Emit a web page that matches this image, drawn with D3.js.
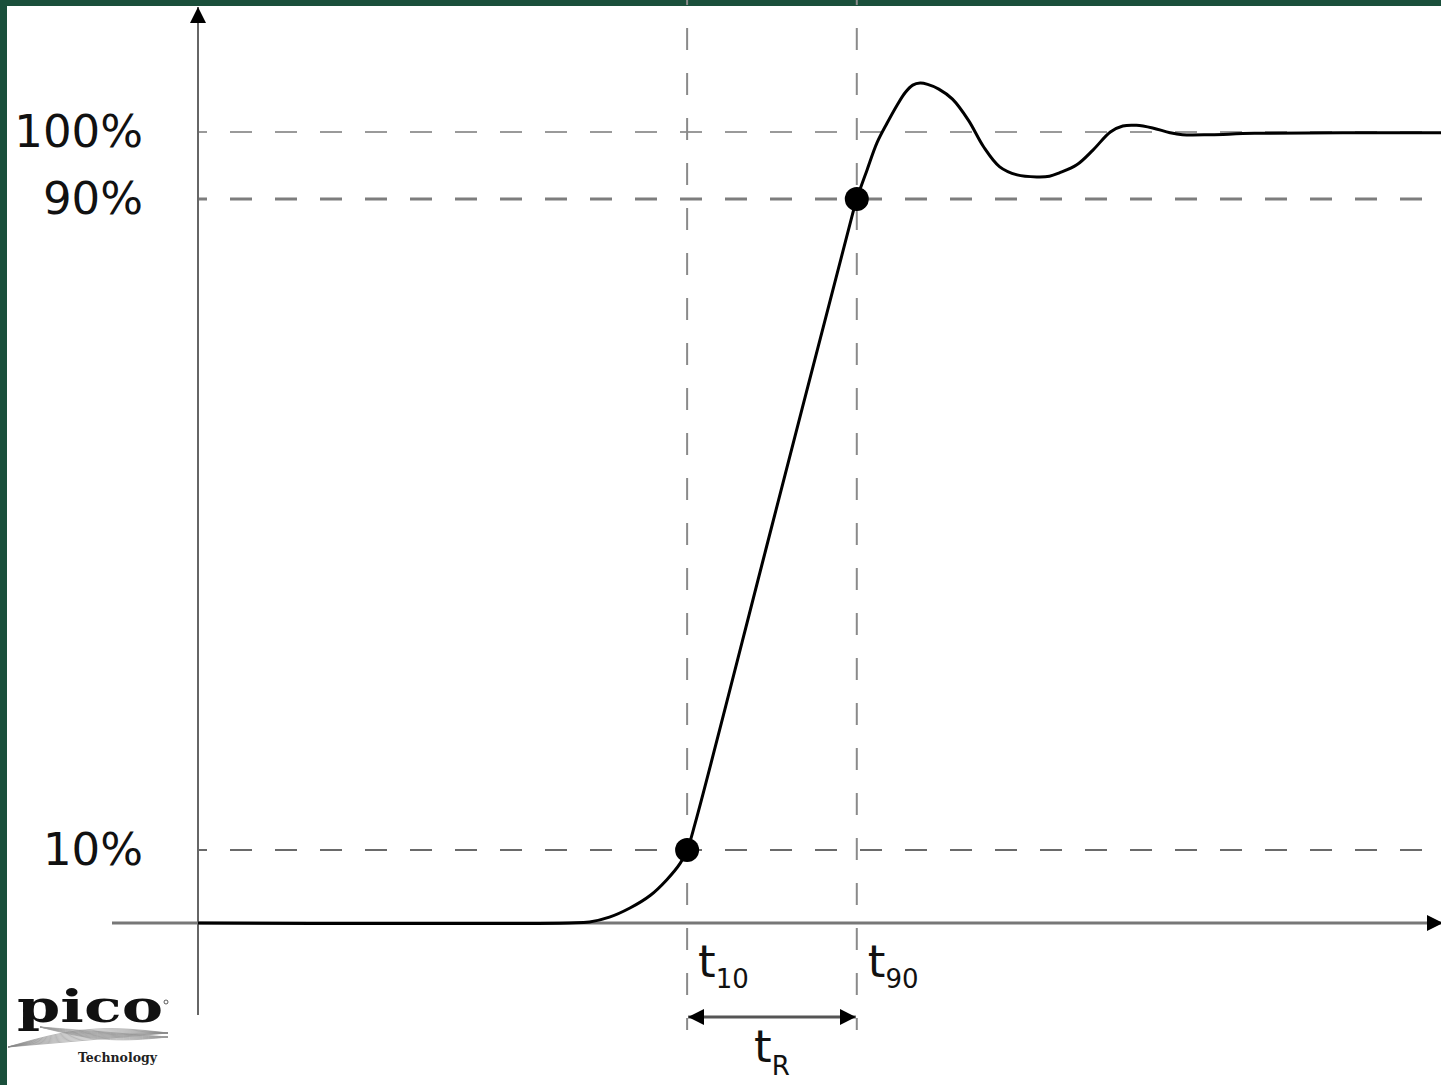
<!DOCTYPE html>
<html>
<head>
<meta charset="utf-8">
<script src="https://cdn.jsdelivr.net/npm/d3@7"></script>
<style>
  html, body { margin: 0; padding: 0; background: #1a4f3b; overflow: hidden; }
  svg { display: block; }
</style>
</head>
<body>
<div id="graph-container"></div>
<script>
const width = 1441;
const height = 1085;

// step response, time in arbitrary units, level in % of final value
const times = [0, 29.9, 31.5, 33.1, 34.75, 36.4, 37.7, 38.8, 39.35, 40.0, 46.2, 52.6, 53.0,
  53.82, 54.63, 55.43, 56.24, 56.9, 57.5, 58.1, 58.7, 59.6, 60.7, 62.0, 63.2, 64.5, 65.9,
  67.5, 68.5, 69.3, 70.7, 72.0, 73.4, 74.4, 75.5, 76.8, 78.2, 79.2, 81.5, 85.0, 100];
const values = [0, 0, 0.14, 0.8, 2.05, 3.8, 5.9, 8.2, 10, 13.3, 50, 87.8, 90,
  94.3, 98.4, 101.3, 104.0, 105.9, 107.0, 107.3, 107.1, 106.4, 104.9, 101.7, 97.8, 94.8, 93.6,
  93.3, 93.4, 93.9, 95.1, 97.3, 100.0, 100.9, 101.0, 100.6, 99.9, 99.6, 99.6, 99.8, 99.9];

// reference levels on the y axis
const levelTicks = [100, 90, 10];
const levelLabels = ["100%", "90%", "10%"];

// crossing points t10 / t90
const crossTimes = [39.35, 53.0];
const crossLevels = [10, 90];
const crossSubs = ["10", "90"];

const svg = d3.select("#graph-container")
  .append("svg")
  .attr("width", width)
  .attr("height", height);

// white page inside the green frame
svg.append("rect")
  .attr("x", 7).attr("y", 6)
  .attr("width", width - 7).attr("height", height - 6)
  .attr("fill", "#fff");

const x = d3.scaleLinear().domain([0, 100]).range([198, 1441]);
// the drawing is schematic: levels are not evenly spaced
const y = d3.scaleLinear().domain([0, 10, 90, 100]).range([923, 850, 199, 132]);

const defs = svg.append("defs");
defs.append("marker")
  .attr("id", "arrow")
  .attr("viewBox", "0 0 10 10")
  .attr("refX", 10).attr("refY", 5)
  .attr("markerWidth", 16).attr("markerHeight", 16)
  .attr("markerUnits", "userSpaceOnUse")
  .attr("orient", "auto-start-reverse")
  .append("path")
  .attr("d", "M0,0L10,5L0,10Z")
  .attr("fill", "#000");

// horizontal dashed reference lines
const levelStyle = { 100: ["#9a9a9a", 2], 90: ["#7d7d7d", 3], 10: ["#6a6a6a", 2.2] };
svg.append("g")
  .selectAll("line")
  .data(levelTicks)
  .join("line")
  .attr("x1", x(0))
  .attr("x2", x(100))
  .attr("y1", d => y(d))
  .attr("y2", d => y(d))
  .attr("stroke", d => levelStyle[d][0])
  .attr("stroke-width", d => levelStyle[d][1])
  .attr("stroke-dasharray", "22 23")
  .attr("stroke-dashoffset", 13);

// vertical dashed lines at t10 and t90
svg.append("g")
  .selectAll("line")
  .data(crossTimes)
  .join("line")
  .attr("x1", d => x(d))
  .attr("x2", d => x(d))
  .attr("y1", -17)
  .attr("y2", y(0) + 107)
  .attr("stroke", "#8a8a8a")
  .attr("stroke-width", 2)
  .attr("stroke-dasharray", "22 23");

// axes
svg.append("line")
  .attr("x1", x(0)).attr("x2", x(0))
  .attr("y1", y(0) + 92).attr("y2", 7)
  .attr("stroke", "#666")
  .attr("stroke-width", 2)
  .attr("marker-end", "url(#arrow)");

svg.append("line")
  .attr("x1", 112).attr("x2", x(100) + 2)
  .attr("y1", y(0)).attr("y2", y(0))
  .attr("stroke", "#777")
  .attr("stroke-width", 3)
  .attr("marker-end", "url(#arrow)");

// level labels
svg.append("g")
  .selectAll("text")
  .data(levelTicks)
  .join("text")
  .attr("x", 143)
  .attr("y", d => y(d))
  .attr("dy", "0.34em")
  .attr("text-anchor", "end")
  .attr("font-family", "DejaVu Sans, Verdana, sans-serif")
  .attr("font-size", 45)
  .attr("fill", "#111")
  .text((d, i) => levelLabels[i]);

// the response curve
const line = d3.line()
  .x((d, i) => x(times[i]))
  .y(d => y(d))
  .curve(d3.curveCatmullRom.alpha(0.5));

svg.append("path")
  .datum(values)
  .attr("d", line)
  .attr("fill", "none")
  .attr("stroke", "#000")
  .attr("stroke-width", 3)
  .attr("stroke-linejoin", "round");

// crossing dots
svg.append("g")
  .selectAll("circle")
  .data(crossTimes)
  .join("circle")
  .attr("cx", d => x(d))
  .attr("cy", (d, i) => y(crossLevels[i]))
  .attr("r", 12)
  .attr("fill", "#000");

// t10 / t90 labels
const tl = svg.append("g")
  .selectAll("text")
  .data(crossTimes)
  .join("text")
  .attr("x", d => x(d) + 11)
  .attr("y", y(0) + 54)
  .attr("font-family", "DejaVu Sans, Verdana, sans-serif")
  .attr("font-size", 45)
  .attr("fill", "#111");
tl.append("tspan").text("t");
tl.append("tspan")
  .attr("font-size", 26)
  .attr("dy", 11)
  .text((d, i) => crossSubs[i]);

// rise time arrow
const ay = y(0) + 94;
svg.append("line")
  .attr("x1", x(crossTimes[0]) + 1).attr("x2", x(crossTimes[1]) - 1)
  .attr("y1", ay).attr("y2", ay)
  .attr("stroke", "#555")
  .attr("stroke-width", 3)
  .attr("marker-start", "url(#arrow)")
  .attr("marker-end", "url(#arrow)");

const tr = svg.append("text")
  .attr("x", (x(crossTimes[0]) + x(crossTimes[1])) / 2)
  .attr("y", ay + 45)
  .attr("text-anchor", "middle")
  .attr("font-family", "DejaVu Sans, Verdana, sans-serif")
  .attr("font-size", 45)
  .attr("fill", "#111");
tr.append("tspan").text("t");
tr.append("tspan").attr("font-size", 26).attr("dy", 13).text("R");

// pico logo
const logo = svg.append("g");
logo.append("text")
  .attr("x", 17).attr("y", 1022)
  .attr("font-family", "DejaVu Serif, Liberation Serif, serif")
  .attr("font-weight", "bold")
  .attr("font-size", 44)
  .attr("textLength", 146)
  .attr("lengthAdjust", "spacingAndGlyphs")
  .attr("fill", "#111")
  .text("pico");
logo.append("circle")
  .attr("cx", 166).attr("cy", 1002).attr("r", 2)
  .attr("fill", "none").attr("stroke", "#333").attr("stroke-width", 0.8);
const wave = d3.line().curve(d3.curveBasis);
for (let k = 0; k < 9; k++) {
  const a = d3.range(0, 1.0001, 0.05).map(u => [8 + u * 160, 1047 - u * 14 - Math.sin(u * Math.PI) * (k * 1.3)]);
  const b = d3.range(0, 1.0001, 0.05).map(u => [40 + u * 128, 1033 + u * 10 + Math.sin(u * Math.PI) * (k * 0.9) - 6]);
  logo.append("path").attr("d", wave(a)).attr("fill", "none").attr("stroke", "#888").attr("stroke-width", 0.6);
  logo.append("path").attr("d", wave(b)).attr("fill", "none").attr("stroke", "#999").attr("stroke-width", 0.6);
}
logo.append("text")
  .attr("x", 78).attr("y", 1062)
  .attr("font-family", "DejaVu Serif, Liberation Serif, serif")
  .attr("font-weight", "bold")
  .attr("font-size", 12)
  .attr("textLength", 79)
  .attr("lengthAdjust", "spacingAndGlyphs")
  .attr("fill", "#222")
  .text("Technology");
</script>
</body>
</html>
